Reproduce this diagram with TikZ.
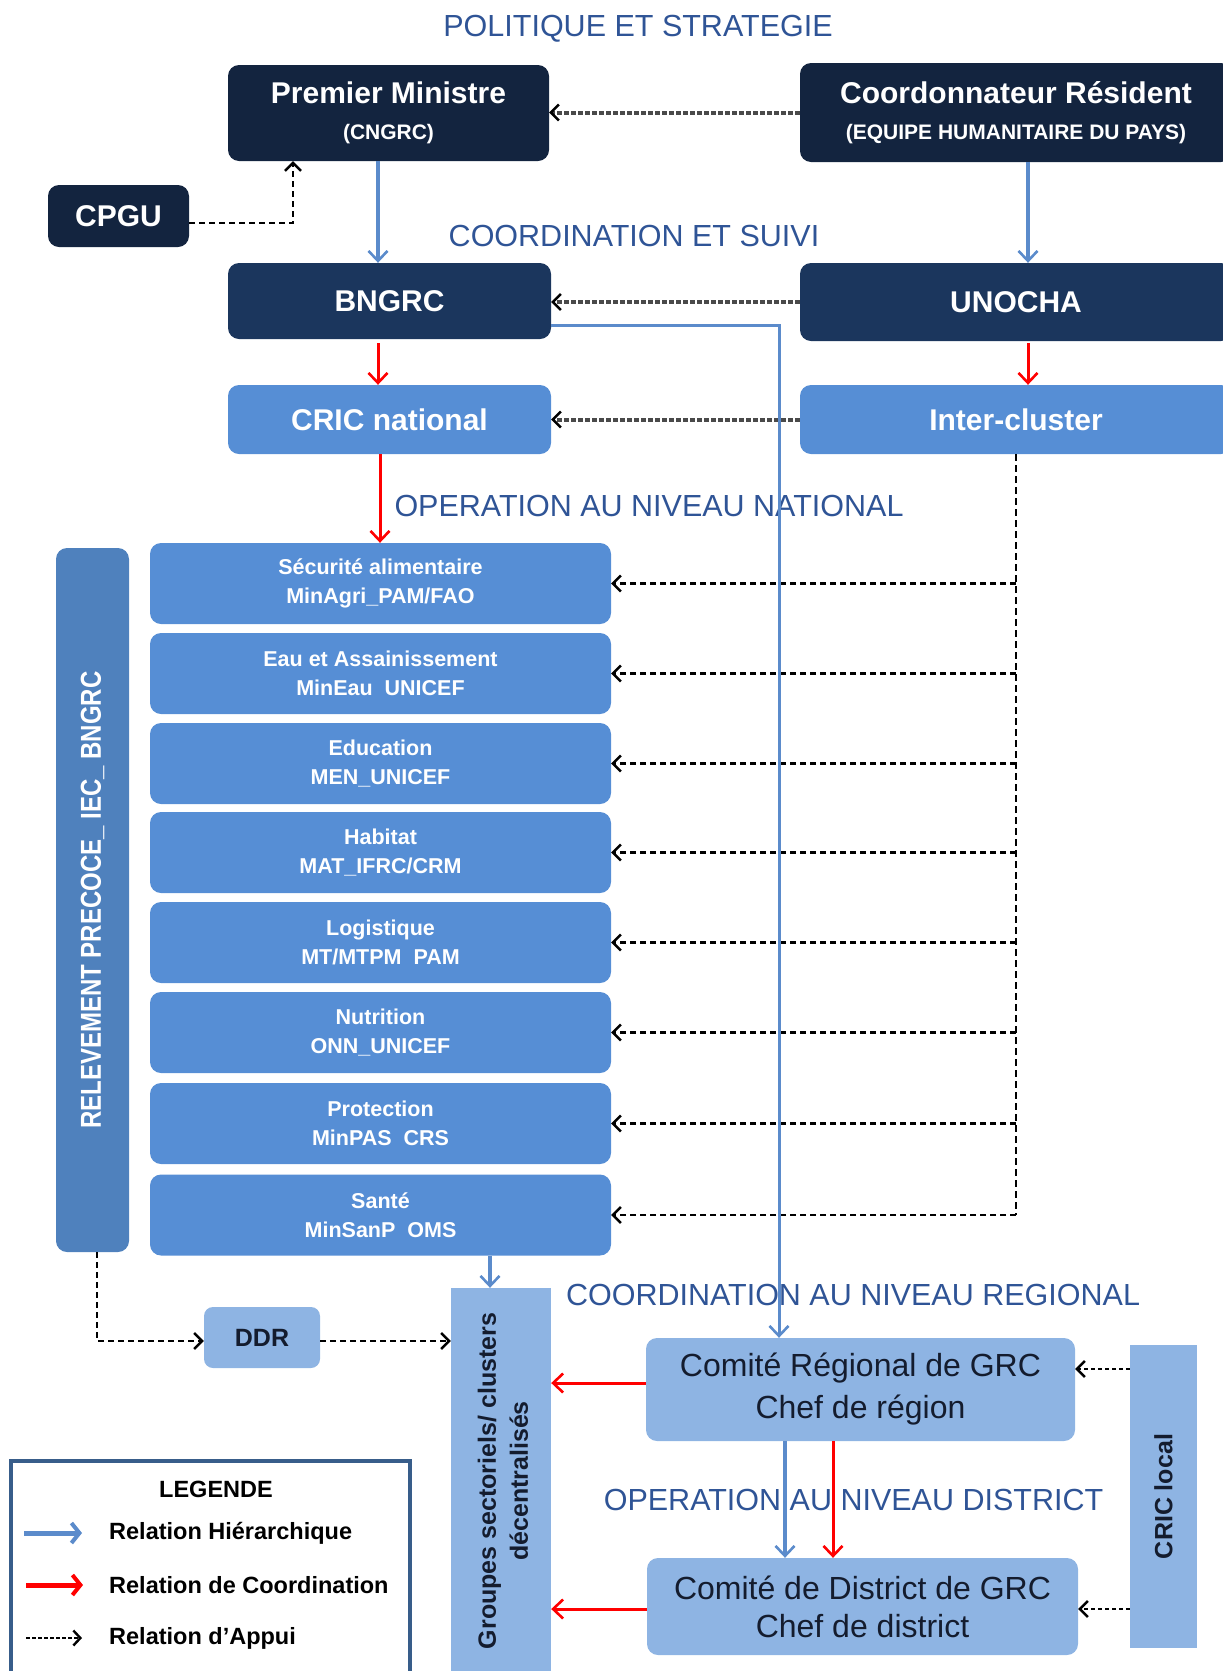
\documentclass[tikz,border=0pt]{standalone}
\usepackage{fontspec}
\usepackage{graphicx}
\setmainfont{Liberation Sans}
\usetikzlibrary{arrows.meta}

\definecolor{navyA}{HTML}{13243F}
\definecolor{navyB}{HTML}{1B365D}
\definecolor{midblue}{HTML}{568ED5}
\definecolor{relblue}{HTML}{4F81BD}
\definecolor{lightblue}{HTML}{8EB4E3}
\definecolor{titleblue}{HTML}{2F5496}
\definecolor{arrblue}{HTML}{5B8BCB}
\definecolor{legborder}{HTML}{385D8A}
\definecolor{darktext}{HTML}{141C2E}
\definecolor{dotgray}{HTML}{4A4A4A}

\newcommand{\fsz}[2]{\fontsize{#1pt}{#2pt}\selectfont}

\tikzset{
  box/.style={rectangle, rounded corners=11pt, inner sep=0pt, align=center},
  darkbox/.style={box, fill=navyA, text=white, font=\fsz{30}{36}\bfseries},
  navybox/.style={box, fill=navyB, text=white, font=\fsz{30}{36}\bfseries},
  midbox/.style={box, fill=midblue, text=white, font=\fsz{30}{36}\bfseries},
  clusterbox/.style={box, fill=midblue, text=white, font=\fsz{21.5}{29}\bfseries,
    minimum width=461pt, minimum height=81pt},
  lightbox/.style={box, fill=lightblue, text=darktext},
  sqbox/.style={rectangle, inner sep=0pt, fill=lightblue, text=darktext},
  titletext/.style={text=titleblue, font=\fsz{30.5}{36}, inner sep=0pt},
  hier/.style={draw=arrblue, line width=3.2pt, -{Straight Barb[length=10pt,width=19pt,line width=2.6pt]}},
  coord/.style={draw=red, line width=3pt, -{Straight Barb[length=10pt,width=19pt,line width=2.6pt]}},
  appui/.style={draw=black, line width=2.7pt, dash pattern=on 6pt off 4pt,
    -{Straight Barb[length=8pt,width=16pt,line width=2.4pt]}},
  dotlink/.style={draw=dotgray, line width=4pt, dash pattern=on 5pt off 2pt,
    -{Straight Barb[length=8pt,width=16pt,line width=2.4pt,color=black]}},
  legtext/.style={anchor=west, inner sep=0pt, font=\fsz{23.5}{28}\bfseries, text=black},
}

\begin{document}
\begin{tikzpicture}[x=1pt,y=-1pt]
\useasboundingbox (0,0) rectangle (1223,1671);
\clip (0,0) rectangle (1223,1671);

% ---------- titles ----------
\node[titletext] (t1) at (638,29) {POLITIQUE ET STRATEGIE};
\node[titletext] (t2) at (634,236) {COORDINATION ET SUIVI};
\node[titletext] (t3) at (649,506) {OPERATION AU NIVEAU NATIONAL};
\node[titletext] (t4) at (853,1295) {COORDINATION AU NIVEAU REGIONAL};
\node[titletext] (t5) at (853.5,1500) {OPERATION AU NIVEAU DISTRICT};

% ---------- top boxes ----------
\node[darkbox, minimum width=321pt, minimum height=96pt] (PM) at (388.5,113)
  {Premier Ministre\\{\fsz{21}{25}(CNGRC)}};
\node[darkbox, minimum width=432pt, minimum height=99pt] (CR) at (1016,112.5)
  {Coordonnateur Résident\\{\fsz{21}{25}(EQUIPE HUMANITAIRE DU PAYS)}};
\node[darkbox, minimum width=141pt, minimum height=62pt] (CPGU) at (118.5,216) {CPGU};
\node[navybox, minimum width=323pt, minimum height=76pt] (BNGRC) at (389.5,301) {BNGRC};
\node[navybox, minimum width=432pt, minimum height=78pt] (UNOCHA) at (1016,302) {UNOCHA};
\node[midbox, minimum width=323pt, minimum height=69pt] (CRICN) at (389.5,419.5) {CRIC national};
\node[midbox, minimum width=432pt, minimum height=69pt] (INTER) at (1016,419.5) {Inter-cluster};

% ---------- clusters ----------
\node[clusterbox] (c1) at (380.5,583.5) {Sécurité alimentaire\\MinAgri\_PAM/FAO};
\node[clusterbox] (c2) at (380.5,673.5) {Eau et Assainissement\\MinEau\ \ UNICEF};
\node[clusterbox] (c3) at (380.5,763.5) {Education\\MEN\_UNICEF};
\node[clusterbox] (c4) at (380.5,852.5) {Habitat\\MAT\_IFRC/CRM};
\node[clusterbox] (c5) at (380.5,942.5) {Logistique\\MT/MTPM\ \ PAM};
\node[clusterbox] (c6) at (380.5,1032.5) {Nutrition\\ONN\_UNICEF};
\node[clusterbox] (c7) at (380.5,1123.5) {Protection\\MinPAS\ \ CRS};
\node[clusterbox] (c8) at (380.5,1215) {Santé\\MinSanP\ \ OMS};

% ---------- left bar ----------
\node[box, fill=relblue, minimum width=73pt, minimum height=704pt] (REL) at (92.5,900) {};
\node[rotate=90, text=white, font=\fsz{24}{30}\bfseries, inner sep=0pt] (RELt) at (92.5,900)
  {\scalebox{1}[1.2]{RELEVEMENT PRECOCE\_ IEC\_ BNGRC}};

% ---------- lower part ----------
\node[lightbox, rounded corners=9pt, minimum width=116pt, minimum height=61pt,
  font=\fsz{25}{30}\bfseries] (DDR) at (262,1337.5) {DDR};
\node[sqbox, minimum width=100pt, minimum height=402pt] (GRP) at (501,1489) {};
\node[rotate=90, align=center, text=darktext, font=\fsz{25}{32}\bfseries, inner sep=0pt]
  (GRPt) at (503,1481) {Groupes sectoriels/ clusters\\décentralisés};
\node[lightbox, minimum width=429pt, minimum height=103pt, font=\fsz{32}{42}] (CRG) at (860.5,1389.5)
  {Comité Régional de GRC\\Chef de région};
\node[lightbox, minimum width=431pt, minimum height=97pt, font=\fsz{32}{38}] (CRD) at (862.5,1606.5)
  {Comité de District de GRC\\Chef de district};
\node[sqbox, minimum width=67pt, minimum height=303pt] (CRICL) at (1163.5,1496.5) {};
\node[rotate=90, text=darktext, font=\fsz{25}{30}\bfseries, inner sep=0pt] (CRICLt) at (1163.5,1496.5)
  {CRIC local};

% ---------- connectors: top ----------
\draw[dotlink] (CR.west) -- (CR.west -| PM.east);
\draw[dotlink] (UNOCHA.west) -- (UNOCHA.west -| BNGRC.east);
\draw[dotlink] (INTER.west) -- (INTER.west -| CRICN.east);
\draw[appui, line width=2.4pt] ([yshift=-7pt]CPGU.east) -| ([xshift=-95.5pt]PM.south);
\draw[hier] ([xshift=-10.5pt]PM.south) -- ([xshift=-11.5pt]BNGRC.north);
\draw[hier] ([xshift=12pt]CR.south) -- ([xshift=12pt]UNOCHA.north);
\draw[coord] ([xshift=-11.5pt,yshift=-4pt]BNGRC.south) -- ([xshift=-11.5pt]CRICN.north);
\draw[coord] ([xshift=12pt,yshift=-2pt]UNOCHA.south) -- ([xshift=12pt]INTER.north);
\draw[coord] ([xshift=-9.5pt]CRICN.south) -- ([xshift=-0.5pt]c1.north);

% ---------- inter-cluster support lines ----------
\coordinate (d8) at (1016,1215);
\draw[draw=black, line width=2.4pt, dash pattern=on 7pt off 4pt] (INTER.south -| d8) -- (d8);
\foreach \i in {1,...,8}{
  \coordinate (e\i) at (c\i.east -| d8);
  \draw[appui] (e\i) -- (c\i.east);
}

% ---------- BNGRC to regional committee ----------
\draw[draw=arrblue, line width=3pt, -{Straight Barb[length=10pt,width=19pt,line width=2.6pt]}]
  ([yshift=-24pt]BNGRC.east) -| ([xshift=-81.5pt]CRG.north);

% ---------- lower connectors ----------
\coordinate (s1) at ([xshift=109.5pt]c8.south);
\draw[hier] (s1) -- (s1 |- GRP.north);
\coordinate (relb) at ([xshift=4.5pt]REL.south);
\draw[appui, line width=2.4pt] (relb) |- ([yshift=-3.5pt]DDR.west);
\coordinate (dd) at ([yshift=-3.5pt]DDR.east);
\draw[appui, line width=2.4pt] (dd) -- (dd -| GRP.west);
\coordinate (r1) at ([yshift=6.5pt]CRG.west);
\draw[coord] (r1) -- (r1 -| GRP.east);
\coordinate (r2) at ([yshift=-2.5pt]CRD.west);
\draw[coord] (r2) -- (r2 -| GRP.east);
\coordinate (v1) at ([xshift=-75.5pt]CRG.south);
\draw[hier] (v1) -- (v1 |- CRD.north);
\coordinate (v2) at ([xshift=-27.5pt]CRG.south);
\draw[coord] (v2) -- (v2 |- CRD.north);
\coordinate (k1) at ([yshift=20.5pt]CRG.east);
\draw[appui, line width=2.4pt, dash pattern=on 4pt off 3pt] (k1 -| CRICL.west) -- (k1);
\coordinate (k2) at ([yshift=-2.5pt]CRD.east);
\draw[appui, line width=2.4pt, dash pattern=on 4pt off 3pt] (k2 -| CRICL.west) -- (k2);

% ---------- legend ----------
\node[draw=legborder, line width=3.5pt, rectangle, inner sep=0pt, minimum width=399pt,
  minimum height=230pt] (LEG) at (210.5,1576) {};
\node[inner sep=0pt, font=\fsz{23.5}{28}\bfseries] (LEGt) at (216,1489) {LEGENDE};
\coordinate (la1) at (24,1533); \coordinate (lb1) at (82,1533);
\coordinate (la2) at (26,1585); \coordinate (lb2) at (83,1585);
\coordinate (la3) at (26,1638); \coordinate (lb3) at (82,1638);
\draw[draw=arrblue, line width=5pt, -{Straight Barb[length=8pt,width=20pt,line width=4pt]}] (la1) -- (lb1);
\draw[draw=red, line width=5pt, -{Straight Barb[length=8pt,width=20pt,line width=4pt]}] (la2) -- (lb2);
\draw[draw=black, line width=2.4pt, dash pattern=on 4pt off 2pt, -{Straight Barb[length=7pt,width=15pt,line width=2.4pt]}] (la3) -- (lb3);
\node[legtext] (lt1) at (109,1533) {Relation Hiérarchique};
\node[legtext] (lt2) at (109,1585) {Relation de Coordination};
\node[legtext] (lt3) at (109,1638) {Relation d'Appui};
\end{tikzpicture}
\end{document}
